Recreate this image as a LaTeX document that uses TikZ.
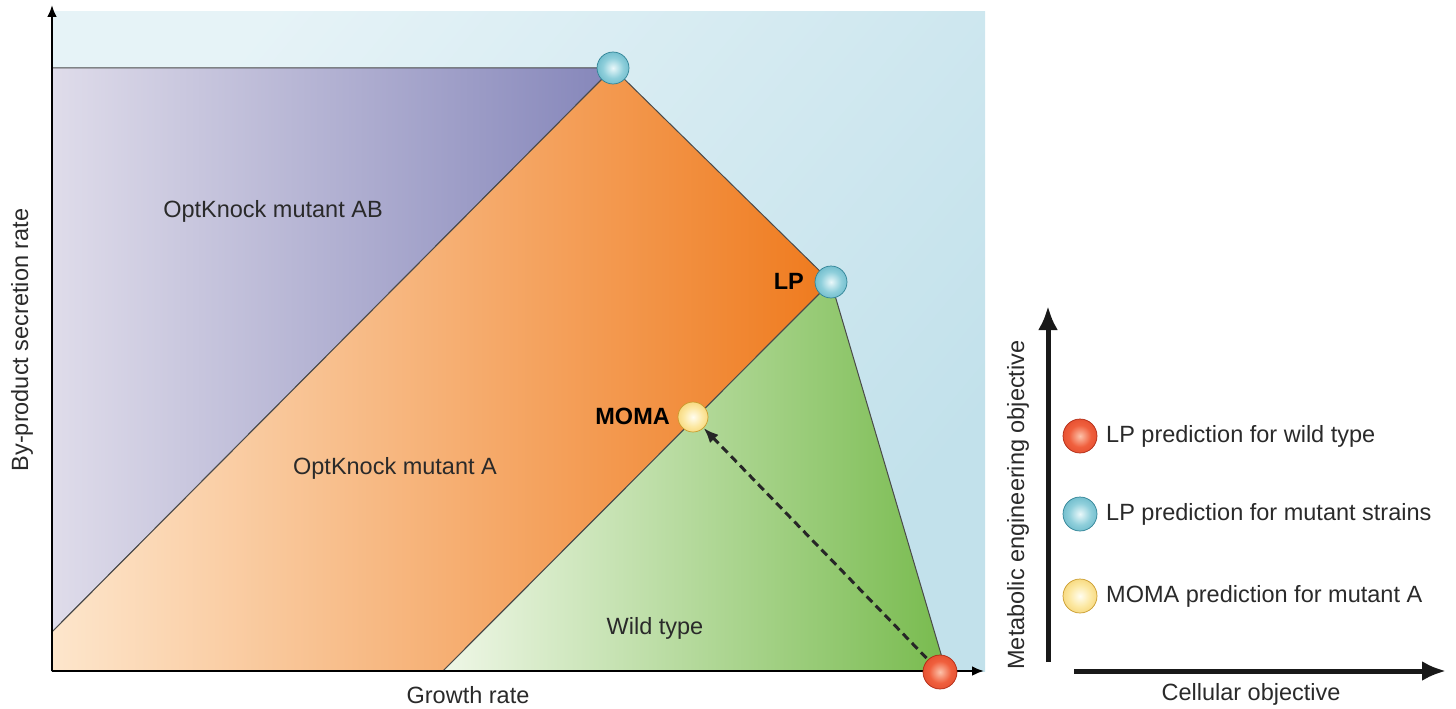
\documentclass[tikz,border=0pt]{standalone}
\usepackage{fontspec}
\setmainfont{Liberation Sans}
\usetikzlibrary{arrows.meta}

\definecolor{bgA}{HTML}{E6F3F7}
\definecolor{bgB}{HTML}{C2E1EB}
\definecolor{purA}{HTML}{DFDCEA}
\definecolor{purB}{HTML}{8586BA}
\definecolor{orA}{HTML}{FDE6CC}
\definecolor{orB}{HTML}{EF7A1D}
\definecolor{grA}{HTML}{EFF7E7}
\definecolor{grB}{HTML}{78BB4E}
\definecolor{edge}{HTML}{4A4A4A}
\definecolor{ink}{HTML}{2A2A2A}

\definecolor{blueHi}{HTML}{EAF8FA}
\definecolor{blueMid}{HTML}{8FCFDB}
\definecolor{blueLo}{HTML}{4AA5B9}
\definecolor{blueRim}{HTML}{2F8295}
\definecolor{redHi}{HTML}{FCC2AA}
\definecolor{redMid}{HTML}{F0603E}
\definecolor{redLo}{HTML}{D83B1F}
\definecolor{redRim}{HTML}{B02A14}
\definecolor{yelHi}{HTML}{FFFDF0}
\definecolor{yelMid}{HTML}{FCE8A2}
\definecolor{yelLo}{HTML}{F0C450}
\definecolor{yelRim}{HTML}{C99B2C}

\pgfdeclareradialshading{sphblue}{\pgfpoint{0bp}{0bp}}{color(0bp)=(blueHi); color(16bp)=(blueMid); color(40bp)=(blueLo); color(50bp)=(blueRim); color(80bp)=(blueRim)}
\pgfdeclareradialshading{sphred}{\pgfpoint{0bp}{0bp}}{color(0bp)=(redHi); color(16bp)=(redMid); color(40bp)=(redLo); color(50bp)=(redRim); color(80bp)=(redRim)}
\pgfdeclareradialshading{sphyel}{\pgfpoint{0bp}{0bp}}{color(0bp)=(yelHi); color(16bp)=(yelMid); color(40bp)=(yelLo); color(50bp)=(yelRim); color(80bp)=(yelRim)}

\tikzset{
  lbl/.style={text=ink, font=\fontsize{23.5}{26}\selectfont, inner sep=0pt},
  blbl/.style={lbl, font=\fontsize{23.5}{26}\selectfont\bfseries, text=black},
  dot/.style={circle, inner sep=0pt, minimum size=#1, line width=0.7pt},
  bluedot/.style={dot=#1, shading=sphblue, draw=blueRim},
  reddot/.style={dot=#1, shading=sphred, draw=redRim},
  yeldot/.style={dot=#1, shading=sphyel, draw=yelRim},
  region/.style={draw=edge, line width=1pt, line join=round},
  axisline/.style={draw=black, line width=2.4pt, -{Latex[length=12pt,width=10pt]}},
  bigaxis/.style={draw=black!90, line width=5pt, -{Latex[length=24pt,width=20pt]}},
  flowarrow/.style={draw=black!85, line width=3pt, dash pattern=on 8pt off 5pt,
                    -{Latex[length=15pt,width=12pt]}, shorten <=2pt}
}

\begin{document}
\begin{tikzpicture}[x=1pt,y=-1pt]
\useasboundingbox (0,0) rectangle (1456,709);

% corner points of the feasible regions
\coordinate (O)   at (52,671);
\coordinate (Ytop) at (52,5);
\coordinate (Xend) at (984,671);
\coordinate (ABleft) at (52,68);
\coordinate (Aleft)  at (52,632);
\coordinate (Pk)   at (613,68);
\coordinate (Plp)  at (831,282);
\coordinate (Wlow) at (443,671);
\coordinate (Wtip) at (946,671);

% background: whole plot area
\shade[shading=axis, top color=bgA, bottom color=bgB, shading angle=50]
  (52,12) rectangle (985,671);

% OptKnock mutant AB
\shadedraw[region, left color=purA, right color=purB]
  (ABleft) -- (Pk) -- (Aleft) -- cycle;
% OptKnock mutant A
\shadedraw[region, left color=orA, right color=orB]
  (Aleft) -- (Pk) -- (Plp) -- (Wlow) -- (O) -- cycle;
% wild type
\shadedraw[region, left color=grA, right color=grB]
  (Wlow) -- (Plp) -- (Wtip) -- cycle;

% axes of the flux plot
\draw[axisline] (O) -- (Ytop);
\draw[axisline] (O) -- (Xend);

% predictions
\node[bluedot=32pt] (lpAB) at (Pk) {};
\node[bluedot=32pt] (lpA) at (Plp) {};
\node[yeldot=30pt]  (moma) at (693,417) {};
\node[reddot=34pt]  (lpWT) at (940,672) {};

\draw[flowarrow] (lpWT) -- (moma);

% region and point labels
\node[lbl] (tAB) at (273,211) {OptKnock mutant AB};
\node[lbl] (tA)  at (395,468) {OptKnock mutant A};
\node[lbl] (tWT) at (655,628) {Wild type};
\node[blbl, anchor=east] (tLP) at (804,281) {LP};
\node[blbl, anchor=east] (tMOMA) at (670,416) {MOMA};
\node[lbl] (tX) at (468,695) {Growth rate};
\node[lbl, rotate=90] (tY) at (22,340) {By-product secretion rate};

% objective axes and legend
\coordinate (Lo) at (1048,662);
\draw[bigaxis] (Lo) -- (1048,306);
\draw[bigaxis] (1074,671) -- (1446,671);
\node[lbl] (tCell) at (1251,694) {Cellular objective};
\node[lbl, rotate=90] (tMet) at (1018,505) {Metabolic engineering objective};

\node[reddot=34pt]  (kR) at (1080,436) {};
\node[bluedot=34pt] (kB) at (1080,514) {};
\node[yeldot=34pt]  (kY) at (1080,596) {};
\node[lbl, anchor=west] (kRt) at (1106,436) {LP prediction for wild type};
\node[lbl, anchor=west] (kBt) at (1106,514) {LP prediction for mutant strains};
\node[lbl, anchor=west] (kYt) at (1106,596) {MOMA prediction for mutant A};
\end{tikzpicture}
\end{document}
